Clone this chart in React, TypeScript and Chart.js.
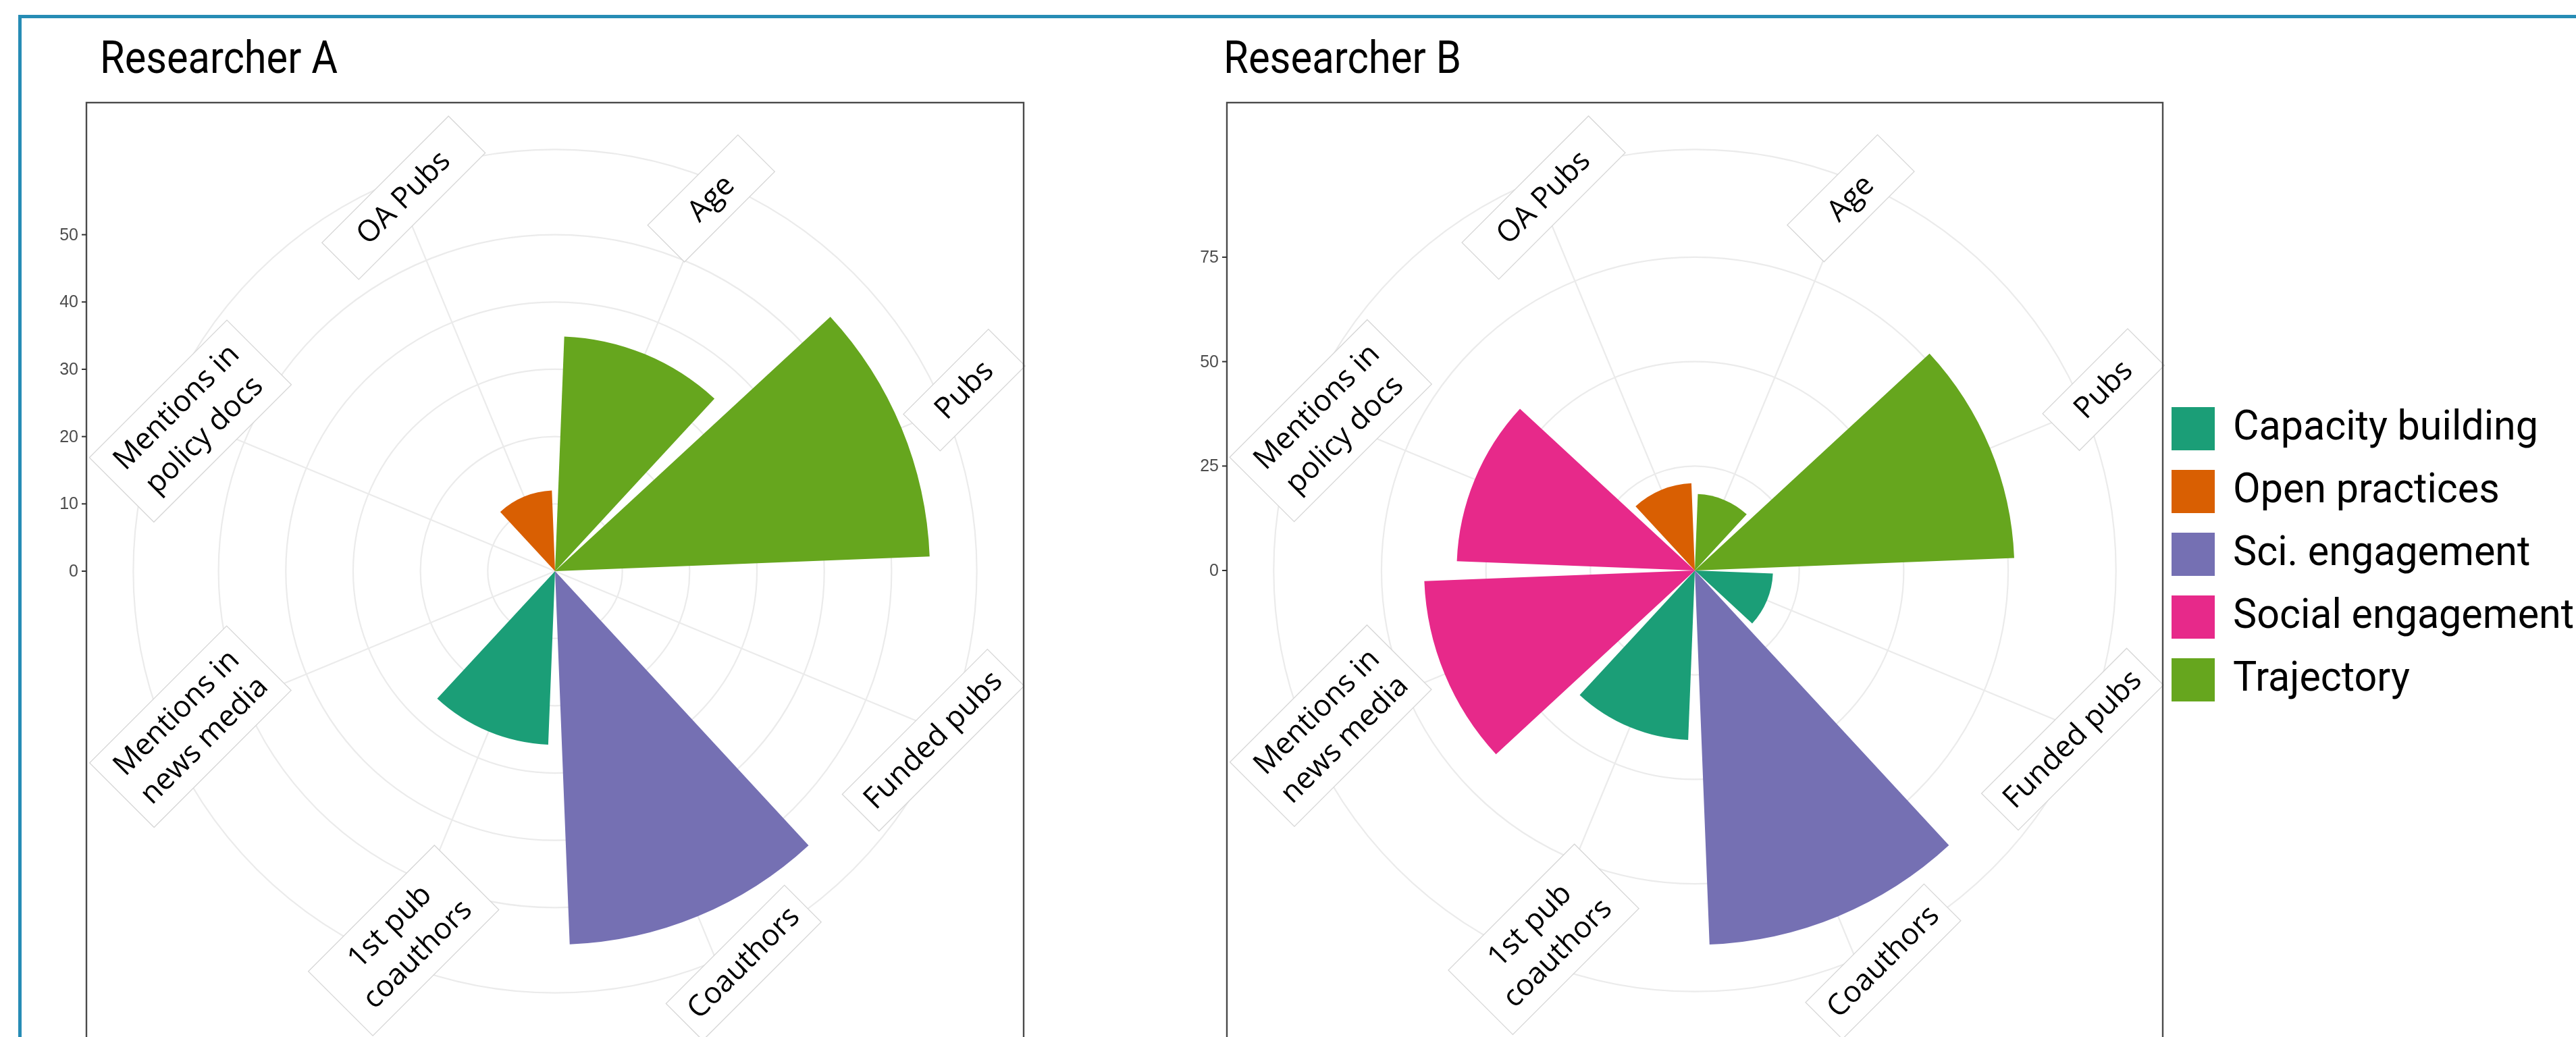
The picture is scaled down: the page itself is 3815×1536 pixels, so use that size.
import React, { useEffect, useRef } from "react";
import { Chart, registerables } from "chart.js";

Chart.register(...registerables);

// ---------------- data ----------------
const categories: (string | string[])[] = [
  "Age",
  "Pubs",
  "Funded pubs",
  "Coauthors",
  ["1st pub", "coauthors"],
  ["Mentions in", "news media"],
  ["Mentions in", "policy docs"],
  "OA Pubs",
];
const categoryGroups = [
  "Trajectory",
  "Trajectory",
  "Capacity building",
  "Sci. engagement",
  "Capacity building",
  "Social engagement",
  "Social engagement",
  "Open practices",
];
const groups = [
  "Capacity building",
  "Open practices",
  "Sci. engagement",
  "Social engagement",
  "Trajectory",
];
const groupColors = ["#1B9E77", "#D95F02", "#7570B3", "#E7298A", "#66A61E"];

const researcherAValues = [34.9, 55.7, 0, 55.5, 25.8, 0, 0, 12.0];
const researcherBValues = [18.3, 76.5, 18.7, 89.6, 40.6, 64.8, 57.0, 20.9];
const researcherATicks = [0, 10, 20, 30, 40, 50];
const researcherBTicks = [0, 25, 50, 75];

// ---------------- styles ----------------
const PAGE_W = 3815;
const PAGE_H = 1536;
const CANVAS_H = 1560;
const BAR_FRACTION = 0.9;
const GAP_COLOR = "rgba(0,0,0,0)";
const GRID_COLOR = "#ebebeb";
const GRID_WIDTH = 2.2;
const LABEL_FONT = '44px "Open Sans"';
const LABEL_LINE = 58;
const LABEL_PAD_Y = 9.5;
const LABEL_RADIUS = 0.955;
// label box long side (px) and small nudges (px) of each category's label box
const labelBoxWidths = [189, 178, 304, 248, 264, 287, 288, 265];
const labelNudges = [
  [3, -1],
  [55, -40],
  [9, 22],
  [51, 29],
  [4, -4],
  [11, 2],
  [11, 6],
  [4, -2],
];
const TITLE_FONT = "66px Roboto";
const TITLE_WIDTH = 352;
const TITLE_BASELINE = 108;
const LEGEND_FONT = "62px Roboto";
const LEGEND_BOX_X = 3216;
const LEGEND_BOX = 64;
const LEGEND_TOP = 603;
const LEGEND_STEP = 93;
const LEGEND_TEXT_X = 3307;
const LEGEND_REF_WIDTH = 452;

function groupColor(i: number) {
  return groupColors[groups.indexOf(categoryGroups[i])];
}

function buildPolarTable(values: number[]) {
  const slot = 360 / values.length;
  const labels: string[] = [];
  const data: number[] = [];
  const angles: number[] = [];
  const colors: string[] = [];
  values.forEach((v, i) => {
    const c = categories[i];
    labels.push(Array.isArray(c) ? c.join(" ") : c);
    data.push(v);
    angles.push(slot * BAR_FRACTION);
    colors.push(groupColor(i));
    labels.push("");
    data.push(0);
    angles.push(slot * (1 - BAR_FRACTION));
    colors.push(GAP_COLOR);
  });
  return { labels, data, angles, colors, startAngle: (slot * (1 - BAR_FRACTION)) / 2 };
}

function fitText(ctx: CanvasRenderingContext2D, text: string, x: number, y: number, sx: number) {
  ctx.save();
  ctx.translate(x, y);
  ctx.scale(sx, 1);
  ctx.fillText(text, 0, 0);
  ctx.restore();
}

function panelPlugin(opts: {
  title: string;
  titleX: number;
  ticks: number[];
  values: number[];
  legend: boolean;
}) {
  const dataMax = Math.max(...opts.values);
  const outerValue = dataMax * 1.125;
  return {
    id: "panel-" + opts.title,
    beforeDatasetsDraw(chart: any) {
      const s = chart.scales.r;
      const ctx = chart.ctx as CanvasRenderingContext2D;
      const meta = chart.getDatasetMeta(0);
      const outer = s.getDistanceFromCenterForValue(outerValue);
      ctx.save();
      ctx.strokeStyle = GRID_COLOR;
      ctx.lineWidth = GRID_WIDTH;
      categories.forEach((_, i) => {
        const arc = meta.data[2 * i];
        const mid = (arc.startAngle + arc.endAngle) / 2;
        ctx.beginPath();
        ctx.moveTo(s.xCenter, s.yCenter);
        ctx.lineTo(s.xCenter + outer * Math.cos(mid), s.yCenter + outer * Math.sin(mid));
        ctx.stroke();
      });
      ctx.restore();
    },
    afterDatasetsDraw(chart: any) {
      const s = chart.scales.r;
      const ctx = chart.ctx as CanvasRenderingContext2D;
      const meta = chart.getDatasetMeta(0);
      const outer = s.getDistanceFromCenterForValue(outerValue);
      ctx.save();
      ctx.font = LABEL_FONT;
      categories.forEach((cat, i) => {
        const lines = Array.isArray(cat) ? cat : [cat];
        const arc = meta.data[2 * i];
        const mid = (arc.startAngle + arc.endAngle) / 2;
        const rr = outer * LABEL_RADIUS;
        const cx = s.xCenter + rr * Math.cos(mid) + labelNudges[i][0];
        const cy = s.yCenter + rr * Math.sin(mid) + labelNudges[i][1];
        const textW = Math.max(...lines.map((l) => ctx.measureText(l).width));
        const w = Math.max(labelBoxWidths[i], textW + 30);
        const h = lines.length * LABEL_LINE + 2 * LABEL_PAD_Y;
        ctx.save();
        ctx.translate(cx, cy);
        ctx.rotate(-Math.PI / 4);
        ctx.fillStyle = "#ffffff";
        ctx.fillRect(-w / 2, -h / 2, w, h);
        ctx.strokeStyle = "#d6d6d6";
        ctx.lineWidth = 1.3;
        ctx.strokeRect(-w / 2, -h / 2, w, h);
        ctx.fillStyle = "#000000";
        ctx.textAlign = "center";
        ctx.textBaseline = "middle";
        lines.forEach((l, k) => {
          ctx.fillText(l, 0, -h / 2 + LABEL_PAD_Y + LABEL_LINE * (k + 0.5) + 1);
        });
        ctx.restore();
      });
      ctx.restore();
    },
    afterDraw(chart: any) {
      const s = chart.scales.r;
      const ctx = chart.ctx as CanvasRenderingContext2D;
      const dA = s.drawingArea;
      const left = s.xCenter - dA;
      const top = s.yCenter - dA;
      ctx.save();
      // panel border
      ctx.strokeStyle = "#4a4a4a";
      ctx.lineWidth = 2.4;
      ctx.strokeRect(left, top, 2 * dA, 2 * dA);
      // radial axis ticks on the left
      ctx.font = '25px "Liberation Sans"';
      ctx.fillStyle = "#4d4d4d";
      ctx.textAlign = "right";
      ctx.textBaseline = "middle";
      ctx.strokeStyle = "#333333";
      ctx.lineWidth = 2;
      opts.ticks.forEach((v) => {
        const y = s.yCenter - s.getDistanceFromCenterForValue(v);
        ctx.beginPath();
        ctx.moveTo(left - 7, y);
        ctx.lineTo(left, y);
        ctx.stroke();
        ctx.fillText(String(v), left - 12, y + 1);
      });
      // title
      ctx.fillStyle = "#000000";
      ctx.textAlign = "left";
      ctx.textBaseline = "alphabetic";
      ctx.font = TITLE_FONT;
      const tw = ctx.measureText(opts.title).width;
      fitText(ctx, opts.title, opts.titleX, TITLE_BASELINE, TITLE_WIDTH / tw);
      // legend
      if (opts.legend) {
        ctx.font = LEGEND_FONT;
        const sx = LEGEND_REF_WIDTH / ctx.measureText(groups[0]).width;
        groups.forEach((g, i) => {
          const y = LEGEND_TOP + i * LEGEND_STEP;
          ctx.fillStyle = groupColors[i];
          ctx.fillRect(LEGEND_BOX_X, y, LEGEND_BOX, LEGEND_BOX);
          ctx.fillStyle = "#000000";
          fitText(ctx, g, LEGEND_TEXT_X, y + 48, sx);
        });
      }
      ctx.restore();
    },
  };
}

function makeConfig(
  values: number[],
  ticks: number[],
  title: string,
  titleX: number,
  padding: { left: number; top: number; right: number; bottom: number },
  legend: boolean
): any {
  const table = buildPolarTable(values);
  const dataMax = Math.max(...values);
  const gridValues = [...ticks, dataMax * 1.125];
  return {
    type: "polarArea",
    data: {
      labels: table.labels,
      datasets: [
        {
          data: table.data,
          angle: table.angles,
          backgroundColor: table.colors,
          borderWidth: 0,
          borderColor: "rgba(0,0,0,0)",
        },
      ],
    },
    options: {
      responsive: false,
      animation: false,
      events: [],
      layout: { padding },
      plugins: {
        legend: { display: false },
        tooltip: { enabled: false },
        title: { display: false },
      },
      scales: {
        r: {
          min: 0,
          max: dataMax * 1.25,
          startAngle: table.startAngle,
          ticks: { display: false },
          pointLabels: { display: false },
          angleLines: { display: false },
          grid: { display: true, circular: true, color: GRID_COLOR, lineWidth: GRID_WIDTH },
          afterBuildTicks: (scale: any) => {
            scale.ticks = gridValues.map((v) => ({ value: v }));
          },
        },
      },
    },
    plugins: [panelPlugin({ title, titleX, ticks, values, legend })],
  };
}

export default function App() {
  const refA = useRef<HTMLCanvasElement>(null);
  const refB = useRef<HTMLCanvasElement>(null);
  useEffect(() => {
    const a = new Chart(
      refA.current as HTMLCanvasElement,
      makeConfig(
        researcherAValues,
        researcherATicks,
        "Researcher A",
        148,
        { left: 128, top: 152, right: PAGE_W - 128 - 1389, bottom: CANVAS_H - 152 - 1389 },
        false
      )
    );
    const b = new Chart(
      refB.current as HTMLCanvasElement,
      makeConfig(
        researcherBValues,
        researcherBTicks,
        "Researcher B",
        1812,
        { left: 1817, top: 152, right: PAGE_W - 1817 - 1387, bottom: CANVAS_H - 152 - 1387 },
        true
      )
    );
    return () => {
      a.destroy();
      b.destroy();
    };
  }, []);
  return (
    <div
      style={{
        position: "fixed",
        left: 0,
        top: 0,
        width: PAGE_W,
        height: PAGE_H,
        overflow: "hidden",
        background: "#ffffff",
      }}
    >
      <div
        style={{
          position: "absolute",
          left: 27,
          top: 22,
          width: 5000,
          height: 3000,
          borderTop: "5px solid #268cb5",
          borderLeft: "5px solid #268cb5",
        }}
      />
      <canvas
        ref={refA}
        width={PAGE_W}
        height={CANVAS_H}
        style={{ position: "absolute", left: 0, top: 0, width: PAGE_W, height: CANVAS_H }}
      />
      <canvas
        ref={refB}
        width={PAGE_W}
        height={CANVAS_H}
        style={{ position: "absolute", left: 0, top: 0, width: PAGE_W, height: CANVAS_H }}
      />
    </div>
  );
}
